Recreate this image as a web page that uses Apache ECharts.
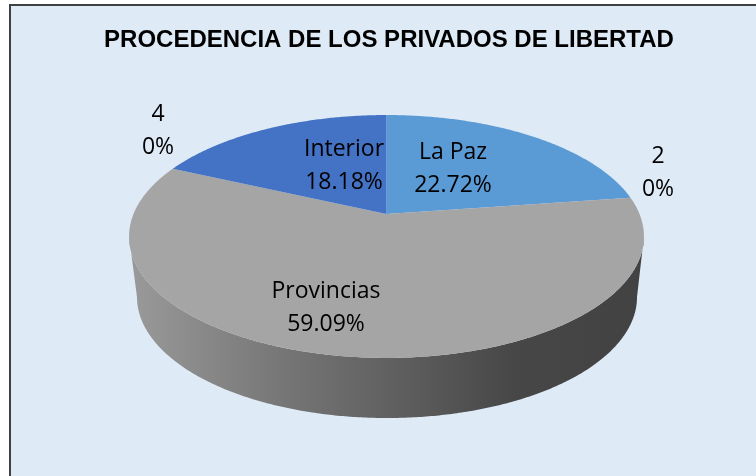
<!DOCTYPE html>
<html><head><meta charset="utf-8">
<style>html,body{margin:0;padding:0;background:#fff;width:756px;height:476px;overflow:hidden}#c{position:absolute;left:0;top:0;width:756px;height:476px}</style>
<script src="https://cdn.jsdelivr.net/npm/echarts@6/dist/echarts.min.js"></script>
</head><body><div id="c"></div>
<script>
const categories = ["La Paz", "2", "Provincias", "4", "Interior"];
const percentValues = [22.72, 0, 59.09, 0, 18.18];
const percentLabels = ["22.72%", "0%", "59.09%", "0%", "18.18%"];
const titleText = "PROCEDENCIA DE LOS PRIVADOS DE LIBERTAD";

const sliceColors = ["#5B9BD5", "#ED7D31", "#A5A5A5", "#FFC000", "#4472C4"];
const labelCenters = [[453,169],[658,173],[326,308],[158,131],[344,166]];
const total = percentValues.reduce((a,b)=>a+b,0);
const topRim = {cx:386.5, cy:214, a:253, b:117.3, k:0.185};
const lowRim = {cx:387, cy:274.6, a:245.7, b:116.9, k:0.185};
const tangent = Math.acos(-topRim.k)*180/Math.PI;
function proj(p, deg){
  const t = deg*Math.PI/180, u = Math.sin(t), v = -Math.cos(t), d = 1 - p.k*v;
  return [p.cx + p.a*u/d, p.cy + p.b*v/d];
}
function arc(p, from, to){
  const n = Math.max(2, Math.ceil(Math.abs(to-from)*2)), out = [];
  for(let i=0;i<=n;i++) out.push(proj(p, from+(to-from)*i/n));
  return out;
}
function range(i){
  let s = 0; for(let j=0;j<i;j++) s += percentValues[j];
  return [s/total*360, (s+percentValues[i])/total*360];
}
const wallGrad = {type:'linear',x:129,y:0,x2:643,y2:0,global:true,colorStops:[
  {offset:0,color:'#9a9a9a'},{offset:0.3,color:'#767676'},{offset:0.55,color:'#5c5c5c'},{offset:0.75,color:'#474747'},{offset:1,color:'#424242'}]};

const chart = echarts.init(document.getElementById('c'), null, {renderer:'canvas'});
chart.setOption({
  animation:false,
  backgroundColor:'#fff',
  title:{text:titleText,left:384,top:22,textAlign:'center',textStyle:{fontFamily:'Liberation Sans',fontWeight:'bold',fontSize:24,color:'#000',lineHeight:26}},
  graphic:{elements:[{type:'rect',z:-1,silent:true,shape:{x:10,y:5,width:760,height:480},style:{fill:'#DEEAF6',stroke:'#404040',lineWidth:2}}]},
  series:[
    {type:'custom',coordinateSystem:'none',z:1,silent:true,data:percentValues.map((v,i)=>({value:v,name:categories[i]})),
     renderItem(params){
       const i=params.dataIndex,[s,e]=range(i);
       const f=Math.max(s,tangent),g=Math.min(e,360-tangent);
       if(e-s<=0||g<=f) return {type:'group',children:[]};
       const pts=arc(topRim,f,g).concat(arc(lowRim,g,f));
       return {type:'polygon',shape:{points:pts},style:{fill:wallGrad}};
     }},
    {type:'custom',coordinateSystem:'none',z:2,silent:true,data:percentValues.map((v,i)=>({value:v,name:categories[i]})),
     renderItem(params){
       const i=params.dataIndex,[s,e]=range(i);
       if(e-s<=0) return {type:'group',children:[]};
       const pts=[[topRim.cx,topRim.cy]].concat(arc(topRim,s,e));
       return {type:'polygon',shape:{points:pts},style:{fill:sliceColors[i]}};
     }},
    {type:'custom',coordinateSystem:'none',z:3,silent:true,data:percentValues.map((v,i)=>({value:v,name:categories[i]})),
     renderItem(params){
       const i=params.dataIndex,c=labelCenters[i];
       return {type:'text',x:c[0],y:c[1],style:{text:categories[i]+"\n"+percentLabels[i],align:'center',verticalAlign:'middle',fontFamily:'Open Sans',fontSize:23,lineHeight:33,fill:'#000'}};
     }}
  ]
});
</script></body></html>
